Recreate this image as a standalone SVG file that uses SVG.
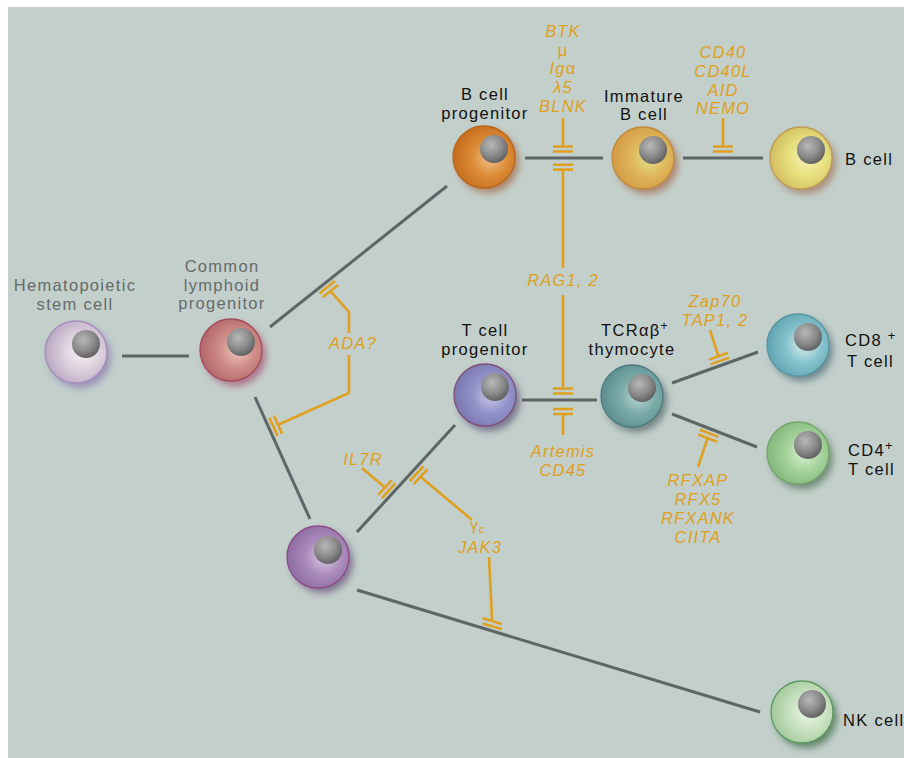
<svg xmlns="http://www.w3.org/2000/svg" width="904" height="758" viewBox="0 0 904 758">
<style>
.edge{stroke:#5e6566;stroke-width:3;fill:none}
.inh{stroke:#dfa020;stroke-width:2.6;fill:none}
.lbl{font-family:"Liberation Sans",Arial,sans-serif;font-size:16.5px;letter-spacing:1.3px;fill:#111;text-anchor:middle}
.grey{fill:#666b6b}
.start{text-anchor:start}
.gene{font-family:"Liberation Sans",Arial,sans-serif;font-size:16.5px;letter-spacing:1.2px;font-style:italic;fill:#dfa020;text-anchor:middle}
.up{font-style:normal}
.rim{stroke-width:1.3}
</style>
<defs>
<filter id="sh" x="-50%" y="-50%" width="200%" height="200%"><feGaussianBlur stdDeviation="3.5"/></filter>
<radialGradient id="gNuc" cx="0.4" cy="0.35" r="0.7"><stop offset="0" stop-color="#b8b8b8"/><stop offset="0.55" stop-color="#8c8c8c"/><stop offset="1" stop-color="#5c5c5c"/></radialGradient>
<radialGradient id="gHSC" cx="0.6" cy="0.5" r="0.6"><stop offset="0" stop-color="#f6f2f6"/><stop offset="0.5" stop-color="#dcd0dc"/><stop offset="1" stop-color="#b9a6c2"/></radialGradient>
<radialGradient id="gCLP" cx="0.6" cy="0.5" r="0.6"><stop offset="0" stop-color="#f0c6bc"/><stop offset="0.5" stop-color="#cd8b86"/><stop offset="1" stop-color="#b26668"/></radialGradient>
<radialGradient id="gBP" cx="0.6" cy="0.52" r="0.6"><stop offset="0" stop-color="#f2c08a"/><stop offset="0.5" stop-color="#db8a34"/><stop offset="1" stop-color="#c46c1e"/></radialGradient>
<radialGradient id="gIB" cx="0.6" cy="0.5" r="0.6"><stop offset="0" stop-color="#e4e088"/><stop offset="0.5" stop-color="#dfb65a"/><stop offset="1" stop-color="#d29a44"/></radialGradient>
<radialGradient id="gB" cx="0.6" cy="0.5" r="0.6"><stop offset="0" stop-color="#f6f2b4"/><stop offset="0.5" stop-color="#e6e07e"/><stop offset="1" stop-color="#d2bd5e"/></radialGradient>
<radialGradient id="gTP" cx="0.6" cy="0.5" r="0.6"><stop offset="0" stop-color="#cacae6"/><stop offset="0.5" stop-color="#9392c8"/><stop offset="1" stop-color="#7876ae"/></radialGradient>
<radialGradient id="gPU" cx="0.6" cy="0.5" r="0.6"><stop offset="0" stop-color="#dccbe2"/><stop offset="0.5" stop-color="#a98abb"/><stop offset="1" stop-color="#8d6ca2"/></radialGradient>
<radialGradient id="gTH" cx="0.6" cy="0.5" r="0.6"><stop offset="0" stop-color="#bcd6d2"/><stop offset="0.5" stop-color="#7aaaa8"/><stop offset="1" stop-color="#5c8c8c"/></radialGradient>
<radialGradient id="gC8" cx="0.6" cy="0.5" r="0.6"><stop offset="0" stop-color="#dcf0f0"/><stop offset="0.5" stop-color="#84c2cc"/><stop offset="1" stop-color="#60a4b0"/></radialGradient>
<radialGradient id="gC4" cx="0.6" cy="0.5" r="0.6"><stop offset="0" stop-color="#dcf2d4"/><stop offset="0.5" stop-color="#a4d29a"/><stop offset="1" stop-color="#82b67a"/></radialGradient>
<radialGradient id="gNK" cx="0.6" cy="0.5" r="0.6"><stop offset="0" stop-color="#eef8ea"/><stop offset="0.5" stop-color="#c8e2c0"/><stop offset="1" stop-color="#a2c89a"/></radialGradient>
</defs>
<rect x="8" y="7" width="896" height="751" fill="#c3cfcb"/>

<g id="connectors">
<g id="edges">
<line class="edge" x1="122" y1="356" x2="189" y2="356"/>
<line class="edge" x1="270" y1="327" x2="447" y2="186"/>
<line class="edge" x1="255" y1="397" x2="310" y2="519"/>
<line class="edge" x1="357" y1="532" x2="455" y2="425"/>
<line class="edge" x1="357" y1="590" x2="760" y2="712"/>
<line class="edge" x1="525" y1="158" x2="603" y2="158"/>
<line class="edge" x1="683" y1="158" x2="763" y2="158"/>
<line class="edge" x1="522" y1="400" x2="597" y2="400"/>
<line class="edge" x1="672" y1="383" x2="758" y2="352"/>
<line class="edge" x1="672" y1="414" x2="757" y2="447"/>
</g>
<g id="inhibitors">
<path class="inh" d="M563,118V145M553,146.5H573M553,151.5H573"/>
<path class="inh" d="M553,164.8H573M553,169.6H573M563,170V268"/>
<path class="inh" d="M563,295V387M553,388.5H573M553,393.5H573"/>
<path class="inh" d="M553,409H573M553,414H573M563,414V435"/>
<path class="inh" d="M723,118V145M713,146.5H733M713,151.5H733"/>
<path class="inh" d="M349,333V312L330.4,291.1M322.6,297.3L338.2,284.9M319.3,293.5L334.9,281.1"/>
<path class="inh" d="M349,355V393L278.1,424.8M274,415.7L282.2,433.9M269.4,417.7L277.6,435.9"/>
<path class="inh" d="M362,468L384.9,487.5M378.2,494.9L391.7,480.1M381.9,498.1L395.4,483.3"/>
<path class="inh" d="M472,520L420.5,476.8M413.8,484.2L427.3,469.4M409.9,481L423.4,466.2"/>
<path class="inh" d="M489,557L492.1,621M482.5,618.1L501.7,623.9M482.7,623.4L501.9,629.2"/>
<path class="inh" d="M710,330L718.4,356.2M709,359.6L727.8,352.8M710.5,364.4L729.3,357.6"/>
<path class="inh" d="M698,467L707.6,438.1M698.3,434.5L716.9,441.7M699.9,429.7L718.5,436.9"/>
</g>
</g>

<g id="hsc">
<circle cx="80" cy="357" r="31" fill="#7a5ea6" opacity="0.55" filter="url(#sh)"/>
<circle cx="76" cy="352" r="31" fill="url(#gHSC)" class="rim" stroke="#a68ebc"/>
<circle cx="86" cy="344" r="14" fill="url(#gNuc)"/>
<text class="lbl grey" x="75" y="291">Hematopoietic</text>
<text class="lbl grey" x="75" y="310">stem cell</text>
</g>
<g id="clp">
<circle cx="235" cy="355" r="31" fill="#9c2c5a" opacity="0.55" filter="url(#sh)"/>
<circle cx="231" cy="350" r="31" fill="url(#gCLP)" class="rim" stroke="#a44a5c"/>
<circle cx="241" cy="342" r="14" fill="url(#gNuc)"/>
<text class="lbl grey" x="222" y="272">Common</text>
<text class="lbl grey" x="222" y="290.5">lymphoid</text>
<text class="lbl grey" x="222" y="309">progenitor</text>
</g>
<g id="bprog">
<circle cx="488" cy="162" r="31" fill="#9a4a1e" opacity="0.55" filter="url(#sh)"/>
<circle cx="484" cy="157" r="31" fill="url(#gBP)" class="rim" stroke="#b8661c"/>
<circle cx="494" cy="149" r="14" fill="url(#gNuc)"/>
<text class="lbl" x="485" y="100">B cell</text>
<text class="lbl" x="485" y="118.5">progenitor</text>
</g>
<g id="immb">
<circle cx="647" cy="163" r="31" fill="#9a4a28" opacity="0.55" filter="url(#sh)"/>
<circle cx="643" cy="158" r="31" fill="url(#gIB)" class="rim" stroke="#c08a3c"/>
<circle cx="653" cy="150" r="14" fill="url(#gNuc)"/>
<text class="lbl" x="644" y="101.5">Immature</text>
<text class="lbl" x="644" y="120">B cell</text>
</g>
<g id="bcell">
<circle cx="805" cy="163" r="31" fill="#9a5a3a" opacity="0.55" filter="url(#sh)"/>
<circle cx="801" cy="158" r="31" fill="url(#gB)" class="rim" stroke="#c09c50"/>
<circle cx="811" cy="150" r="14" fill="url(#gNuc)"/>
<text class="lbl start" x="845" y="165">B cell</text>
</g>
<g id="tprog">
<circle cx="489" cy="400" r="31" fill="#3a2c5a" opacity="0.55" filter="url(#sh)"/>
<circle cx="485" cy="395" r="31" fill="url(#gTP)" class="rim" stroke="#7e507a"/>
<circle cx="495" cy="387" r="14" fill="url(#gNuc)"/>
<text class="lbl" x="485" y="336">T cell</text>
<text class="lbl" x="485" y="354.5">progenitor</text>
</g>
<g id="lymphprec">
<circle cx="322" cy="562" r="31" fill="#4a2c60" opacity="0.55" filter="url(#sh)"/>
<circle cx="318" cy="557" r="31" fill="url(#gPU)" class="rim" stroke="#8c4a86"/>
<circle cx="328" cy="550" r="14" fill="url(#gNuc)"/>
</g>
<g id="thymocyte">
<circle cx="636" cy="401" r="31" fill="#2a4444" opacity="0.55" filter="url(#sh)"/>
<circle cx="632" cy="396" r="31" fill="url(#gTH)" class="rim" stroke="#4e7c80"/>
<circle cx="642" cy="388" r="14" fill="url(#gNuc)"/>
<text class="lbl" x="635" y="336">TCR<tspan>αβ</tspan><tspan font-size="12" dy="-6">+</tspan></text>
<text class="lbl" x="632" y="354.5">thymocyte</text>
</g>
<g id="cd8">
<circle cx="802" cy="350" r="31" fill="#2a5060" opacity="0.55" filter="url(#sh)"/>
<circle cx="798" cy="345" r="31" fill="url(#gC8)" class="rim" stroke="#5896a6"/>
<circle cx="808" cy="337" r="14" fill="url(#gNuc)"/>
<text class="lbl start" x="845" y="346">CD8 <tspan font-size="13" dy="-6">+</tspan></text>
<text class="lbl start" x="847" y="367">T cell</text>
</g>
<g id="cd4">
<circle cx="802" cy="458" r="31" fill="#2a5630" opacity="0.55" filter="url(#sh)"/>
<circle cx="798" cy="453" r="31" fill="url(#gC4)" class="rim" stroke="#74a66c"/>
<circle cx="808" cy="445" r="14" fill="url(#gNuc)"/>
<text class="lbl start" x="848" y="456">CD4<tspan font-size="13" dy="-6">+</tspan></text>
<text class="lbl start" x="848" y="475">T cell</text>
</g>
<g id="nk">
<circle cx="806" cy="717" r="31" fill="#24562c" opacity="0.6" filter="url(#sh)"/>
<circle cx="802" cy="712" r="31" fill="url(#gNK)" class="rim" stroke="#5c9a62"/>
<circle cx="812" cy="704" r="14" fill="url(#gNuc)"/>
<text class="lbl start" x="843" y="726">NK cell</text>
</g>

<g id="gene-labels">
<text class="gene" x="563" y="37">BTK</text>
<text class="gene" x="563" y="55.5"><tspan class="up">μ</tspan></text>
<text class="gene" x="563" y="74">Ig<tspan class="up">α</tspan></text>
<text class="gene" x="563" y="93">λ5</text>
<text class="gene" x="563" y="112">BLNK</text>
<text class="gene" x="723" y="58">CD40</text>
<text class="gene" x="723" y="77">CD40L</text>
<text class="gene" x="723" y="95.5">AID</text>
<text class="gene" x="723" y="114">NEMO</text>
<text class="gene" x="563" y="286">RAG1, 2</text>
<text class="gene" x="353" y="349">ADA?</text>
<text class="gene" x="563" y="457">Artemis</text>
<text class="gene" x="563" y="475.5">CD45</text>
<text class="gene" x="363" y="465">IL7R</text>
<text class="gene" x="478" y="530"><tspan class="up" font-size="15">γ</tspan><tspan font-size="11" dy="3">c</tspan></text>
<text class="gene" x="480" y="553">JAK3</text>
<text class="gene" x="715" y="307">Zap70</text>
<text class="gene" x="715" y="325.5">TAP1, 2</text>
<text class="gene" x="698" y="486">RFXAP</text>
<text class="gene" x="698" y="505">RFX5</text>
<text class="gene" x="698" y="524">RFXANK</text>
<text class="gene" x="698" y="543">CIITA</text>
</g>
</svg>
